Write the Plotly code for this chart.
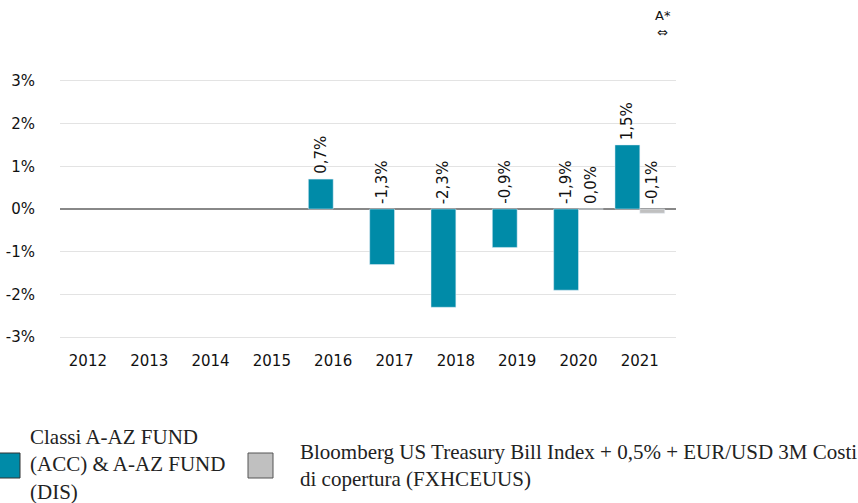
import plotly.graph_objects as go

years = [2012, 2013, 2014, 2015, 2016, 2017, 2018, 2019, 2020, 2021]
fund = [None, None, None, None, 0.7, -1.3, -2.3, -0.9, -1.9, 1.5]
bench = [None, None, None, None, None, None, None, None, 0.0, -0.1]
fund_name = "Classi A-AZ FUND<br>(ACC) & A-AZ FUND<br>(DIS)"
bench_name = "Bloomberg US Treasury Bill Index + 0,5% + EUR/USD 3M Costi<br>di copertura (FXHCEUUS)"
y_ticks = [-3, -2, -1, 0, 1, 2, 3]
y_labels = ["-3%", "-2%", "-1%", "0%", "1%", "2%", "3%"]

TEAL = "#008BA8"
GREY = "#C0C0C0"

W, H = 858, 503
L, R, T, B = 60, 182, 68, 153
PW, PH = W - L - R, H - T - B

def px(x):
    return (x - L) / PW

def py(y):
    return (H - B - y) / PH

fig = go.Figure()
fig.add_trace(go.Bar(x=years, y=fund, marker_color=TEAL, name="fund", showlegend=False))
fig.add_trace(go.Bar(x=years, y=bench, marker_color=GREY, name="bench", showlegend=False))

def fmt(v):
    return ("%.1f%%" % v).replace(".", ",")

annotations = []
for series, shift in ((fund, -12.5), (bench, 12.5)):
    for yr, v in zip(years, series):
        if v is None:
            continue
        annotations.append(dict(
            x=yr, y=max(v, 0), xref="x", yref="y", text=fmt(v), textangle=-90,
            showarrow=False, xanchor="center", yanchor="bottom", xshift=shift, yshift=3,
            font=dict(family="DejaVu Sans", size=15, color="#111")))

annotations.append(dict(x=px(663), y=py(6), xref="paper", yref="paper", text="A*<br>⇔",
                        showarrow=False, xanchor="center", yanchor="top",
                        font=dict(family="DejaVu Sans", size=13, color="#111")))

serif = dict(family="Liberation Serif", size=21, color="#222")
annotations.append(dict(x=px(29), y=py(464), xref="paper", yref="paper", text=fund_name,
                        showarrow=False, xanchor="left", yanchor="middle", align="left",
                        borderpad=0, font=serif))
annotations.append(dict(x=px(299), y=py(465), xref="paper", yref="paper", text=bench_name,
                        showarrow=False, xanchor="left", yanchor="middle", align="left",
                        borderpad=0, font=serif))

shapes = [
    dict(type="rect", xref="paper", yref="paper", x0=px(-4), x1=px(20), y0=py(478), y1=py(453),
         fillcolor=TEAL, line=dict(color="#333", width=1)),
    dict(type="rect", xref="paper", yref="paper", x0=px(248), x1=px(273), y0=py(478), y1=py(453),
         fillcolor=GREY, line=dict(color="#555", width=1)),
]

fig.update_layout(
    width=W, height=H, margin=dict(l=L, r=R, t=T, b=B, autoexpand=False),
    paper_bgcolor="white", plot_bgcolor="white",
    barmode="group", bargap=0.19, bargroupgap=0,
    annotations=annotations, shapes=shapes, showlegend=False,
    xaxis=dict(tickmode="array", tickvals=years, ticktext=[str(y) for y in years],
               range=[2011.545, 2021.59], showgrid=False, zeroline=False, showline=False,
               automargin=False,
               tickfont=dict(family="DejaVu Sans", size=15, color="#111"), ticks=""),
    yaxis=dict(tickmode="array", tickvals=y_ticks, ticktext=y_labels, range=[-3.3, 3.3],
               showgrid=True, gridcolor="#E3E3E3", gridwidth=1, automargin=False,
               zeroline=True, zerolinecolor="#888", zerolinewidth=1.5,
               tickfont=dict(family="DejaVu Sans", size=15, color="#111"), ticks="",
               ticklabelstandoff=24),
)

fig.write_html("out.html", config={"displayModeBar": False},
               post_script="document.body.style.margin='0';document.body.style.overflow='hidden';")
